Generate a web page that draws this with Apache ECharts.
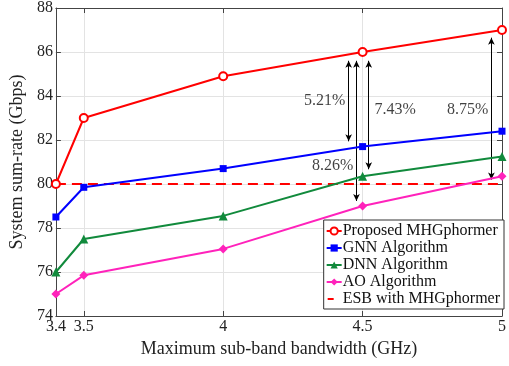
<!DOCTYPE html>
<html>
<head>
<meta charset="utf-8">
<script src="https://cdn.jsdelivr.net/npm/echarts@6/dist/echarts.min.js"></script>
<style>html,body{margin:0;padding:0;background:#fff}#c{width:509px;height:366px}</style>
</head>
<body>
<div id="c"></div>
<script>
var bandwidth = [3.4, 3.5, 4, 4.5, 5];
var proposed = [80, 83, 84.9, 86, 87];
var gnn = [78.5, 79.85, 80.7, 81.7, 82.4];
var dnn = [76, 77.5, 78.55, 80.35, 81.25];
var ao = [75, 75.85, 77.05, 79.0, 80.35];
var esb = [80, 80, 80, 80, 80];
var yTicks = [74, 76, 78, 80, 82, 84, 86, 88];
// annotation arrows: [x, yTop, yBottom]
var arrows = [[4.45, 85.6, 81.94], [4.478, 85.6, 79.23], [4.522, 85.6, 80.67], [4.962, 86.65, 80.2]];
// annotation texts: [x, y, text]
var notes = [[4.364, 83.79, '5.21%'], [4.393, 80.85, '8.26%'], [4.617, 83.38, '7.43%'], [4.877, 83.38, '8.75%']];

function pairs(v) { return bandwidth.map(function (x, i) { return [x, v[i]]; }); }
var font = 'Liberation Serif';
var axisColor = '#444';

var chart = echarts.init(document.getElementById('c'), null, {renderer: 'canvas'});
var series = [
  {name: 'Proposed MHGphormer', type: 'line', data: pairs(proposed), symbol: 'emptyCircle', symbolSize: 8,
   lineStyle: {color: '#ff0000', width: 2}, itemStyle: {color: '#ff0000', borderWidth: 1.5}, z: 5},
  {name: 'GNN Algorithm', type: 'line', data: pairs(gnn), symbol: 'rect', symbolSize: 7,
   lineStyle: {color: '#0000ff', width: 2}, itemStyle: {color: '#0000ff'}, z: 5},
  {name: 'DNN Algorithm', type: 'line', data: pairs(dnn), symbol: 'triangle', symbolSize: 9,
   lineStyle: {color: '#118a3c', width: 2}, itemStyle: {color: '#118a3c'}, z: 5},
  {name: 'AO Algorithm', type: 'line', data: pairs(ao), symbol: 'diamond', symbolSize: 9,
   lineStyle: {color: '#ff22bb', width: 2}, itemStyle: {color: '#ff22bb'}, z: 5},
  {name: 'ESB with MHGphormer', type: 'line', data: pairs(esb), symbol: 'none',
   lineStyle: {color: '#ff0000', width: 2, type: [10, 6]}, itemStyle: {color: '#ff0000'}, z: 4},
  {name: 'arrows', type: 'line', data: [], silent: true,
   markLine: {silent: true, symbol: ['arrow', 'arrow'], symbolSize: [5, 7], label: {show: false},
     lineStyle: {color: '#000', width: 1, type: 'solid'},
     data: arrows.map(function (a) { return [{coord: [a[0], a[1]]}, {coord: [a[0], a[2]]}]; })}},
  {name: 'notes', type: 'scatter', symbolSize: 0, silent: true,
   data: notes.map(function (n) { return {value: [n[0], n[1]], label: {formatter: n[2]}}; }),
   label: {show: true, position: 'inside', color: '#111', fontFamily: font, fontSize: 16}}
];

chart.setOption({
  animation: false,
  backgroundColor: '#fff',
  grid: {left: 55, right: 4, top: 6, bottom: 50},
  legend: {
    orient: 'vertical', right: 5, top: 220,
    data: ['Proposed MHGphormer', 'GNN Algorithm', 'DNN Algorithm', 'AO Algorithm',
      {name: 'ESB with MHGphormer', icon: 'path://M0,0L0.01,0L0.01,0.01Z M1,3.5L7,3.5L7,5.5L1,5.5Z M15,9L15.01,9L15.01,8.99Z'}],
    backgroundColor: '#fff', borderColor: '#333', borderWidth: 1, borderRadius: 0,
    padding: [3, 4, 2, 2], itemGap: 1, itemWidth: 15, itemHeight: 9,
    textStyle: {fontFamily: font, fontSize: 16, color: '#111', padding: [0, 0, 0, -4]}
  },
  xAxis: [
    {type: 'value', min: 3.4, max: 5, position: 'bottom',
     name: 'Maximum sub-band bandwidth (GHz)', nameLocation: 'middle', nameGap: 22,
     nameTextStyle: {fontFamily: font, fontSize: 18, color: '#222'},
     axisLine: {lineStyle: {color: axisColor}},
     axisTick: {inside: true, length: 5, customValues: bandwidth, lineStyle: {color: axisColor}},
     axisLabel: {customValues: bandwidth, fontFamily: font, fontSize: 16, color: '#222', margin: 3},
     splitLine: {show: true, lineStyle: {color: '#e3e3e3'}}},
    {type: 'value', min: 3.4, max: 5, position: 'top',
     axisLine: {lineStyle: {color: axisColor}},
     axisTick: {inside: true, length: 5, customValues: bandwidth, lineStyle: {color: axisColor}},
     axisLabel: {show: false}, splitLine: {show: false}}
  ],
  yAxis: [
    {type: 'value', min: 74, max: 88, interval: 2, position: 'left',
     name: 'System sum-rate (Gbps)', nameLocation: 'middle', nameGap: 25,
     nameTextStyle: {fontFamily: font, fontSize: 18, color: '#222'},
     axisLine: {show: true, lineStyle: {color: axisColor}},
     axisTick: {show: true, inside: true, length: 5, lineStyle: {color: axisColor}},
     axisLabel: {fontFamily: font, fontSize: 16, color: '#222', margin: 3},
     splitLine: {show: true, lineStyle: {color: '#e3e3e3'}}},
    {type: 'value', min: 74, max: 88, interval: 2, position: 'right',
     axisLine: {show: true, lineStyle: {color: axisColor}},
     axisTick: {show: true, inside: true, length: 5, lineStyle: {color: axisColor}},
     axisLabel: {show: false}, splitLine: {show: false}}
  ],
  series: series
});
</script>
</body>
</html>
